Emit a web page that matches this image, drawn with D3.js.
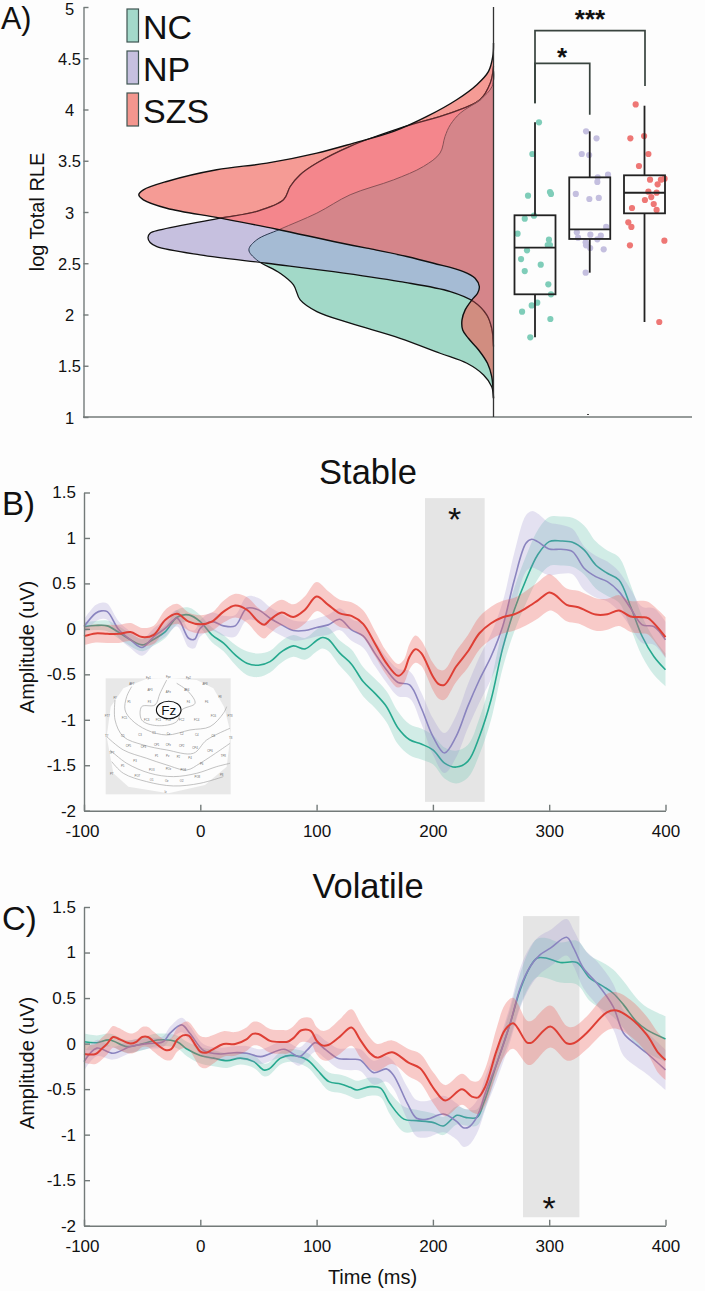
<!DOCTYPE html>
<html><head><meta charset="utf-8">
<script src="https://cdnjs.cloudflare.com/ajax/libs/d3/7.8.5/d3.min.js"></script>
<style>
html,body{margin:0;padding:0;background:#fdfdfd}
svg{display:block}
text{font-family:"Liberation Sans",Arial,sans-serif;fill:#111}
</style></head><body><svg id="c" width="705" height="1291"></svg>
<script>
// ---------- data ----------
const groups = ["NC","NP","SZS"];
const densNC = [[4.372,0],[4.225,.004],[4.095,.038],[3.965,.094],[3.851,.122],[3.737,.137],[3.575,.151],[3.444,.198],[3.314,.282],[3.168,.405],[2.989,.499],[2.832,.603],[2.728,.669],[2.631,.691],[2.533,.669],[2.403,.603],[2.289,.565],[2.142,.546],[2.028,.499],[1.915,.405],[1.768,.264],[1.622,.151],[1.524,.075],[1.41,.028],[1.296,.005],[1.182,0]];
const densNP = [[4.421,0],[4.258,.009],[4.095,.038],[3.965,.122],[3.819,.264],[3.64,.405],[3.477,.499],[3.363,.546],[3.249,.574],[3.119,.593],[3.005,.669],[2.94,.772],[2.826,.942],[2.793,.97],[2.751,.976],[2.702,.97],[2.663,.951],[2.582,.829],[2.5,.64],[2.419,.452],[2.321,.264],[2.224,.122],[2.126,.056],[1.996,.019],[1.866,.005],[1.687,0]];
const densSZS = [[4.648,0],[4.518,.002],[4.372,.014],[4.242,.047],[4.095,.104],[3.932,.188],[3.786,.282],[3.672,.395],[3.575,.499],[3.477,.64],[3.412,.782],[3.298,.923],[3.216,.989],[3.168,1.002],[3.119,.989],[3.037,.923],[2.94,.772],[2.832,.612],[2.712,.452],[2.647,.358],[2.566,.245],[2.5,.169],[2.419,.085],[2.354,.052],[2.273,.04],[2.207,.045],[2.142,.061],[2.045,.08],[1.947,.089],[1.849,.087],[1.768,.071],[1.654,.042],[1.524,.017],[1.394,.005],[1.182,0]];
const boxQ1 = [2.197,2.737,2.987];
const boxMed = [2.652,2.831,3.188];
const boxQ3 = [2.968,3.338,3.358];
const boxLo = [1.778,2.408,1.927];
const boxHi = [3.875,3.787,4.037];
const ptsNC = [[.195,3.875],[-.13,3.566],[-.34,3.159],[.73,3.195],[.78,3.176],[-.05,2.964],[-.5,2.935],[-.85,2.789],[.68,2.73],[.62,2.678],[.73,2.678],[-.39,2.626],[-.68,2.541],[.28,2.486],[-.5,2.424],[.65,2.294],[.78,2.197],[.11,2.115],[-.16,2.089],[-.63,2.028],[.75,1.956],[-.23,1.777]];
const ptsNP = [[-.18,3.787],[.33,3.719],[-.39,3.566],[-.03,3.556],[.89,3.364],[.39,3.338],[.37,3.293],[-.68,3.176],[-.02,3.127],[.44,3.137],[.8,2.854],[-.63,2.802],[-.57,2.75],[.03,2.779],[.54,2.769],[.37,2.733],[-.2,2.704],[-.18,2.675],[.02,2.649],[.68,2.636],[-.2,2.408]];
const ptsSZS = [[-.43,4.05],[-.69,3.719],[-.02,3.741],[.19,3.566],[-.27,3.449],[.27,3.315],[.8,3.315],[.98,3.325],[.64,3.27],[.19,3.198],[.59,3.189],[.33,3.146],[.02,3.117],[.45,3.078],[-.61,3.039],[.59,3.02],[-.79,2.899],[-.64,2.854],[.97,2.72],[-.71,2.675],[.72,1.927]];
const yTicksA = [1,1.5,2,2.5,3,3.5,4,4.5,5];
const yTicksERP = [-2,-1.5,-1,-.5,0,.5,1,1.5];
const xTicksERP = [-100,0,100,200,300,400];

// [time ms, amplitude, band half-width]
const stableNC = [[-100,.025,.05],[-90,.037,.05],[-80,.033,.06],[-70,-.04,.07],[-60,-.12,.07],[-50,-.176,.07],[-40,-.114,.07],[-30,-.03,.07],[-20,.128,.08],[-10,.154,.08],[0,.08,.07],[10,-.066,.08],[20,-.157,.09],[30,-.286,.11],[40,-.377,.13],[50,-.4,.13],[60,-.36,.12],[70,-.25,.12],[80,-.187,.12],[90,-.22,.12],[100,-.128,.12],[105,-.095,.12],[110,-.114,.13],[120,-.267,.14],[130,-.388,.16],[140,-.58,.16],[150,-.707,.16],[160,-.853,.17],[170,-1.09,.18],[180,-1.22,.17],[190,-1.267,.17],[200,-1.33,.16],[210,-1.476,.17],[220,-1.52,.18],[230,-1.458,.18],[240,-1.183,.2],[250,-.78,.22],[260,-.212,.22],[270,.21,.24],[280,.538,.26],[290,.813,.27],[300,.96,.27],[310,.967,.27],[320,.952,.27],[330,.868,.27],[340,.703,.26],[350,.612,.25],[360,.538,.25],[370,.245,.24],[380,-.084,.22],[390,-.304,.2],[400,-.45,.18]];
const stableNP = [[-100,.025,.08],[-90,.172,.09],[-85,.198,.09],[-80,.19,.09],[-70,-.01,.09],[-60,-.12,.09],[-50,-.205,.09],[-40,-.084,.09],[-30,.007,.09],[-20,.117,.09],[-10,-.103,.1],[-5,-.114,.1],[0,.007,.09],[10,.08,.1],[20,.033,.11],[30,.033,.12],[40,.227,.13],[50,.209,.13],[60,.117,.12],[70,.044,.12],[80,-.018,.11],[90,-.018,.1],[100,.015,.1],[110,.044,.11],[120,.106,.12],[130,-.011,.12],[140,-.077,.13],[150,-.267,.14],[160,-.45,.14],[170,-.59,.15],[180,-.615,.15],[190,-.87,.17],[200,-1.183,.2],[210,-1.366,.22],[220,-1.183,.23],[230,-.853,.24],[240,-.56,.25],[250,-.304,.25],[260,.026,.27],[270,.538,.3],[280,.941,.31],[285,.985,.31],[290,.96,.31],[300,.879,.29],[310,.875,.27],[320,.85,.25],[330,.667,.24],[340,.575,.23],[350,.52,.22],[360,.41,.22],[370,.227,.21],[380,.044,.2],[390,.026,.2],[400,-.121,.2]];
const stableSZS = [[-100,-.08,.1],[-90,-.05,.1],[-80,-.055,.1],[-70,-.055,.1],[-60,-.035,.1],[-50,-.09,.1],[-40,-.065,.1],[-30,.1,.11],[-20,.165,.11],[-10,.08,.1],[0,.05,.1],[10,.08,.1],[20,.19,.12],[30,.256,.13],[40,.21,.14],[50,.08,.15],[55,.045,.15],[60,.1,.15],[70,.18,.14],[80,.13,.14],[90,.21,.15],[100,.355,.16],[110,.264,.15],[120,.17,.15],[130,.143,.15],[140,.055,.15],[150,-.157,.14],[160,-.377,.13],[170,-.516,.13],[175,-.469,.13],[180,-.304,.14],[185,-.223,.15],[190,-.267,.14],[200,-.524,.15],[205,-.608,.16],[210,-.615,.165],[220,-.414,.17],[230,-.249,.18],[240,-.048,.18],[250,.062,.18],[260,.128,.18],[270,.161,.18],[280,.227,.19],[290,.311,.2],[300,.4,.2],[305,.374,.19],[315,.264,.18],[325,.238,.18],[340,.158,.18],[350,.161,.17],[360,.201,.17],[370,.136,.17],[380,.128,.18],[385,.117,.18],[400,-.092,.22]];
const volatileNC = [[-100,.02,.09],[-89,.01,.08],[-78,.04,.07],[-63,-.033,.07],[-49,.0,.07],[-37,.04,.07],[-20,.02,.07],[-11.5,-.06,.08],[0,-.13,.09],[11.5,-.16,.09],[23,-.187,.08],[34.5,-.16,.07],[46,-.198,.07],[54.6,-.29,.07],[59,-.28,.07],[69,-.16,.07],[77.6,-.13,.07],[92,-.18,.08],[100.6,-.29,.09],[110.6,-.418,.1],[120.7,-.443,.1],[129,-.48,.1],[134.7,-.509,.1],[146,-.473,.1],[155,-.49,.1],[163,-.656,.12],[175,-.83,.14],[186,-.846,.12],[200.6,-.868,.1],[209,-.905,.1],[220.6,-.788,.1],[228,-.81,.09],[238,-.81,.09],[243.6,-.656,.1],[255,-.216,.12],[266.5,.223,.16],[275,.59,.18],[283.7,.846,.2],[289.4,.938,.21],[298,.938,.22],[309.5,.89,.22],[323.8,.89,.24],[335,.718,.25],[346.7,.626,.26],[355,.553,.26],[364,.425,.26],[375,.242,.26],[384,.15,.25],[400,.051,.25]];
const volatileNP = [[-100,-.198,.1],[-89,-.05,.09],[-75,-.106,.07],[-60,-.033,.07],[-46,0,.06],[-32,.02,.06],[-26,.114,.07],[-16,.205,.08],[-9,.114,.08],[3,-.077,.07],[17,-.114,.07],[29,-.1,.07],[40,-.106,.08],[52,-.143,.08],[72,-.062,.09],[85,-.143,.1],[92,-.07,.1],[99,.011,.1],[108,-.07,.1],[118,-.16,.11],[129,-.172,.12],[137.5,-.18,.12],[149,-.319,.13],[160,-.278,.14],[166,-.344,.15],[178,-.656,.18],[186,-.82,.2],[195,-.83,.2],[209,-.773,.2],[220.6,-.857,.2],[226,-.923,.21],[230.6,-.919,.2],[238,-.802,.18],[246,-.509,.18],[255,-.216,.18],[266.5,.223,.2],[275,.608,.22],[283.7,.846,.22],[292,.974,.21],[301,1.048,.2],[315,1.168,.2],[321,1.048,.2],[329.5,.828,.22],[341,.663,.24],[355,.407,.25],[364,.114,.25],[375,-.015,.24],[384,-.106,.23],[400,-.289,.22]];
const volatileSZS = [[-100,-.114,.1],[-90,-.114,.11],[-85,-.06,.12],[-80,0,.12],[-75,.073,.12],[-70,.05,.12],[-60,0,.11],[-55,.02,.11],[-50,.073,.11],[-45,.073,.11],[-40,.02,.11],[-30,-.07,.11],[-25,-.06,.12],[-20,.04,.13],[-15,.09,.14],[-10,.088,.15],[-5,0,.16],[0,-.088,.17],[5,-.1,.17],[10,-.07,.16],[20,-.004,.14],[30,-.004,.13],[40,.05,.13],[45,.106,.13],[50,.106,.13],[60,.03,.13],[70,.018,.13],[75,.02,.13],[80,.06,.13],[87,.147,.13],[95,.14,.14],[100,.033,.15],[105,-.02,.16],[110,-.015,.17],[120,.077,.19],[130,.176,.2],[137.5,.04,.19],[146,-.106,.17],[152,-.154,.15],[165,-.095,.13],[179,-.209,.15],[189,-.271,.16],[200.6,-.491,.17],[210.6,-.626,.17],[225,-.502,.17],[233.5,-.582,.17],[239,-.59,.18],[245,-.473,.2],[255,-.07,.25],[262,.15,.28],[269,.223,.28],[281,.011,.24],[285,.011,.24],[301,.187,.23],[315,.004,.19],[321,.004,.18],[332,.114,.18],[349.6,.344,.2],[358,.363,.2],[370,.278,.2],[384,.095,.2],[394,-.106,.22],[400,-.18,.22]];

const sigStable = {x:[193.2,244.5], y:[-1.903,1.438]};
const sigVolatile = {x:[277.5,326], y:[-1.907,1.4]};

// topography inset, in image units
const headOutline = [[440,596],[505,594],[590,600],[640,625],[672,680],[692,760],[680,860],[615,915],[505,940],[385,920],[340,880],[320,770],[332,680],[370,625]];
const contours = [
 [[500,600],[480,640],[465,675],[425,680],[425,720],[470,737],[530,725],[545,690],[585,670],[565,635],[530,610]],
 [[395,620],[380,650],[375,690],[395,720],[440,750],[500,765],[570,750],[630,740],[670,700],[680,680]],
 [[345,660],[345,720],[370,770],[430,795],[500,810],[580,820],[620,780],[690,745]],
 [[320,770],[370,810],[440,835],[500,855],[560,870],[600,850],[690,790]],
 [[330,810],[380,850],[450,880],[520,890],[590,880],[650,860],[690,850]],
 [[335,845],[370,880],[440,905],[520,918],[600,910],[670,890]]
];
const electrodes = [["Fp1",445,596],["Fpz",505,595],["Fp2",565,597],["AF7",395,616],["AF8",615,614],["AF3",450,633],["AFz",505,640],["AF4",560,633],["F7",345,656],["F8",660,654],["F5",387,668],["F3",448,670],["F4",565,668],["F6",620,668],["FT7",322,710],["FC5",373,718],["FC3",440,722],["FC1",475,723],["FCz",505,724],["FC2",545,722],["FC4",590,722],["FC6",640,712],["FT8",690,712],["T7",320,772],["C5",368,770],["C3",420,768],["C1",462,762],["Cz",505,764],["C2",545,764],["C4",590,768],["C6",640,770],["T8",692,776],["TP7",335,822],["CP5",385,800],["CP3",430,803],["CP1",470,798],["CPz",505,798],["CP2",545,800],["CP4",585,808],["CP6",630,816],["TP8",670,830],["P7",335,884],["P5",368,862],["P3",405,846],["P1",470,832],["Pz",503,832],["P2",535,834],["P4",570,836],["P6",605,856],["P8",665,888],["PO7",412,890],["PO3",455,872],["POz",505,870],["PO4",550,874],["PO8",592,894],["O1",455,903],["Oz",500,906],["O2",545,905],["Iz",497,940]];

// ---------- style ----------
const colLine = {NC:"#25a88e",NP:"#8a84bf",SZS:"#de3f35"};
const colBand = {NC:"rgb(110,198,178)",NP:"rgb(150,140,205)",SZS:"rgb(238,90,85)"};
const bandAlpha = {NC:.3,NP:.24,SZS:.31};
const colDot = {NC:"#7fcdb9",NP:"#c4bfdf",SZS:"#ee7775"};
const colDens = {NC:"rgb(102,194,165)",NP:"rgb(141,131,190)",SZS:"rgb(240,90,80)"};
const axisCol = "#737a79";
const svg = d3.select("#c");
svg.append("rect").attr("width",705).attr("height",1291).attr("fill","#fdfdfd");

function styleAxis(g,size){
  g.selectAll("path,line").attr("stroke",axisCol).attr("stroke-width",1.4);
  g.selectAll("text").attr("font-size",size).attr("font-family",'"Liberation Sans",Arial,sans-serif').attr("fill","#111");
}
function label(t,x,y,size,anchor,rot){
  const s=svg.append("text").text(t).attr("font-size",size).attr("text-anchor",anchor||"start");
  if(rot) s.attr("transform",`translate(${x},${y}) rotate(-90)`); else s.attr("x",x).attr("y",y);
  return s;
}

// ---------- panel A ----------
const yA = d3.scaleLinear().domain([1,5]).range([417,7]);
const xD = d3.scaleLinear().domain([0,1]).range([493.5,139.5]);
const axA = svg.append("g").attr("transform","translate(83.5,0)")
  .call(d3.axisLeft(yA).tickValues(yTicksA).tickFormat(d=>String(d)).tickSizeInner(-5).tickSizeOuter(0).tickPadding(0));
styleAxis(axA,16.5);
axA.selectAll("text").attr("text-anchor","middle").attr("x",-14).attr("dy",d=>d===5?"7.5px":"6px");
svg.append("line").attr("x1",83).attr("x2",692).attr("y1",yA(1)).attr("y2",yA(1)).attr("stroke",axisCol).attr("stroke-width",1.4);
svg.append("line").attr("x1",587).attr("x2",589).attr("y1",414.5).attr("y2",414.5).attr("stroke","#444").attr("stroke-width",1);
const area = d3.area().y(d=>yA(d[0])).x0(xD(0)).x1(d=>xD(d[1])).curve(d3.curveCatmullRom.alpha(.5));
const outline = d3.line().y(d=>yA(d[0])).x(d=>xD(d[1])).curve(d3.curveCatmullRom.alpha(.5));
const defs = svg.append("defs");
defs.append("clipPath").attr("id","clipS").append("path").attr("d",area(densSZS));
defs.append("clipPath").attr("id","clipP").append("path").attr("d",area(densNP));
const gD = svg.append("g");
gD.append("path").attr("d",area(densNC)).attr("fill",colDens.NC).attr("fill-opacity",.6);
gD.append("path").attr("d",outline(densNC)).attr("fill","none").attr("stroke","#111").attr("stroke-width",1.3);
gD.append("path").attr("d",area(densNP)).attr("fill","#c6c0df").attr("fill-opacity",1);
gD.append("g").attr("clip-path","url(#clipP)").append("path").attr("d",area(densNC)).attr("fill","#a5bbd4");
gD.append("g").attr("clip-path","url(#clipP)").append("path").attr("d",outline(densNC)).attr("fill","none").attr("stroke","#28364e").attr("stroke-width",1);
gD.append("path").attr("d",outline(densNP)).attr("fill","none").attr("stroke","#111").attr("stroke-width",1.3);
gD.append("path").attr("d",area(densSZS)).attr("fill",colDens.SZS).attr("fill-opacity",.6);
const inS = gD.append("g").attr("clip-path","url(#clipS)");
inS.append("path").attr("d",area(densNP)).attr("fill","#f4868c");
inS.append("g").attr("clip-path","url(#clipP)").append("path").attr("d",area(densNC)).attr("fill","#d5858a");
inS.append("path").attr("d",outline(densNP)).attr("fill","none").attr("stroke","#5a2a2e").attr("stroke-width",1.2);
inS.append("path").attr("d",outline(densNC)).attr("fill","none").attr("stroke","#8b5156").attr("stroke-width",1);
gD.append("path").attr("d",outline(densSZS)).attr("fill","none").attr("stroke","#111").attr("stroke-width",1.4);
svg.append("line").attr("x1",493.5).attr("x2",493.5).attr("y1",7).attr("y2",yA(1)).attr("stroke","#333").attr("stroke-width",1.3);

// legend
const legendFill = {NC:"#a3d9ca",NP:"#c6c0df",SZS:"#f3968e"};
const legendBand = d3.scaleBand().domain(groups).range([9,135]);
groups.forEach(g=>{
  svg.append("rect").attr("x",127).attr("y",legendBand(g)).attr("width",11.5).attr("height",33)
    .attr("fill",legendFill[g]).attr("stroke","#3f5552").attr("stroke-width",1.2);
  label(g,143,legendBand(g)+29.5,34);
});

// boxes
const xBox = d3.scalePoint().domain(groups).range([535,644.5]);
const boxW = 41;
const gB = svg.append("g");
const ptSets = {NC:ptsNC,NP:ptsNP,SZS:ptsSZS};
groups.forEach((g,i)=>{
  const cx=xBox(g);
  gB.append("g").selectAll("circle").data(ptSets[g]).join("circle")
    .attr("cx",d=>cx+d[0]*boxW/2).attr("cy",d=>yA(d[1])).attr("r",3.1).attr("fill",colDot[g]);
  gB.append("line").attr("x1",cx).attr("x2",cx).attr("y1",yA(boxHi[i])).attr("y2",yA(boxQ3[i])).attr("stroke","#222").attr("stroke-width",1.8);
  gB.append("line").attr("x1",cx).attr("x2",cx).attr("y1",yA(boxQ1[i])).attr("y2",yA(boxLo[i])).attr("stroke","#222").attr("stroke-width",1.8);
  gB.append("rect").attr("x",cx-boxW/2).attr("width",boxW).attr("y",yA(boxQ3[i])).attr("height",yA(boxQ1[i])-yA(boxQ3[i]))
    .attr("fill","none").attr("stroke","#222").attr("stroke-width",1.8);
  gB.append("line").attr("x1",cx-boxW/2).attr("x2",cx+boxW/2).attr("y1",yA(boxMed[i])).attr("y2",yA(boxMed[i])).attr("stroke","#222").attr("stroke-width",1.8);
});
// significance brackets, in value units
const brk = (a,b,top,la,lb)=>gB.append("path").attr("fill","none").attr("stroke","#39443f").attr("stroke-width",1.7)
  .attr("d",d3.line()([[xBox(a),yA(la)],[xBox(a),yA(top)],[xBox(b)+(b=="SZS"?.5:0),yA(top)],[xBox(b)+(b=="SZS"?.5:0),yA(lb)]]));
brk("NC","SZS",4.77,4.06,4.23);
brk("NC","NP",4.45,4.06,3.95);
label("***",590,28,26,"middle").attr("font-weight","bold");
label("*",562,66,26,"middle").attr("font-weight","bold");
label("A)",1,28.5,30.5);
label("log Total RLE",44,212,20,"middle",true);

// ---------- ERP panels ----------
const xE = d3.scaleLinear().domain([-100,400]).range([84,665.5]);
function erp(opts){
  const y = d3.scaleLinear().domain([-2,1.5]).range(opts.yr);
  const g = svg.append("g");
  g.append("rect").attr("x",xE(opts.sig.x[0])).attr("width",xE(opts.sig.x[1])-xE(opts.sig.x[0]))
    .attr("y",y(opts.sig.y[1])).attr("height",y(opts.sig.y[0])-y(opts.sig.y[1])).attr("fill","#e5e5e5");
  const ax = svg.append("g").attr("transform",`translate(84,0)`)
    .call(d3.axisLeft(y).tickValues(yTicksERP).tickFormat(d=>String(d)).tickSizeInner(-6).tickSizeOuter(0).tickPadding(8));
  styleAxis(ax,17);
  const ax2 = svg.append("g").attr("transform",`translate(0,${opts.yr[0]})`)
    .call(d3.axisBottom(xE).tickValues(xTicksERP).tickFormat(d=>String(d)).tickSizeInner(-6).tickSizeOuter(0).tickPadding(0));
  styleAxis(ax2,17);
  ax2.selectAll("text").attr("dy",0).attr("y",26.5).attr("dx",d=>d===-100?-2:0);
  opts.series.forEach(([k,arr])=>{
    const band = d3.area().x(d=>xE(d[0])).y0(d=>y(d[1]-d[2])).y1(d=>y(d[1]+d[2])).curve(d3.curveCatmullRom.alpha(.5));
    const ln = d3.line().x(d=>xE(d[0])).y(d=>y(d[1])).curve(d3.curveCatmullRom.alpha(.5));
    g.append("path").attr("d",band(arr)).attr("fill",colBand[k]).attr("fill-opacity",bandAlpha[k]);
    g.append("path").attr("d",ln(arr)).attr("fill","none").attr("stroke",colLine[k]).attr("stroke-width",k=="SZS"?2:1.6);
  });
  return y;
}
const yB = erp({yr:[810.7,492.5],sig:sigStable,series:[["NC",stableNC],["NP",stableNP],["SZS",stableSZS]]});
const yC = erp({yr:[1225.7,907],sig:sigVolatile,series:[["NC",volatileNC],["NP",volatileNP],["SZS",volatileSZS]]});

label("Stable",368,484,34.5,"middle");
label("Volatile",368,898,34.5,"middle");
label("B)",2,515,33);
label("C)",2,930,33);
label("Amplitude (uV)",34,647,20,"middle",true);
label("Amplitude (uV)",34,1063,20,"middle",true);
label("Time (ms)",372.5,1284,20,"middle");
label("*",454.5,531,34,"middle");
label("*",549,1220,34,"middle");

// ---------- inset ----------
const xT = d3.scaleLinear().domain([317,692]).range([105.7,230.7]);
const yT = d3.scaleLinear().domain([595,943]).range([678.3,794.3]);
const gT = svg.append("g");
gT.append("rect").attr("x",xT(317)).attr("y",yT(595)).attr("width",125).attr("height",116).attr("fill","#e8e8e8");
gT.append("path").attr("fill","#fdfdfd")
  .attr("d",d3.line().x(d=>xT(d[0])).y(d=>yT(d[1])).curve(d3.curveLinearClosed)(headOutline));
const tLine = d3.line().x(d=>xT(d[0])).y(d=>yT(d[1])).curve(d3.curveCatmullRom.alpha(.5));
contours.forEach(c=>gT.append("path").attr("d",tLine(c)).attr("fill","none").attr("stroke","#a8a8a8").attr("stroke-width",.7));
const gEl = gT.append("g").attr("opacity",.75);
gEl.selectAll("text").data(electrodes).join("text").attr("x",d=>xT(d[1])).attr("y",d=>yT(d[2])).attr("text-anchor","middle")
  .attr("font-size",2.8).attr("style","fill:#333").text(d=>d[0]);
gT.append("ellipse").attr("cx",168.7).attr("cy",710).attr("rx",12.3).attr("ry",8.8).attr("fill","#fdfdfd").attr("stroke","#111").attr("stroke-width",1.1);
gT.append("text").attr("x",168.7).attr("y",714.8).attr("text-anchor","middle").attr("font-size",13.5).text("Fz");
</script></body></html>
